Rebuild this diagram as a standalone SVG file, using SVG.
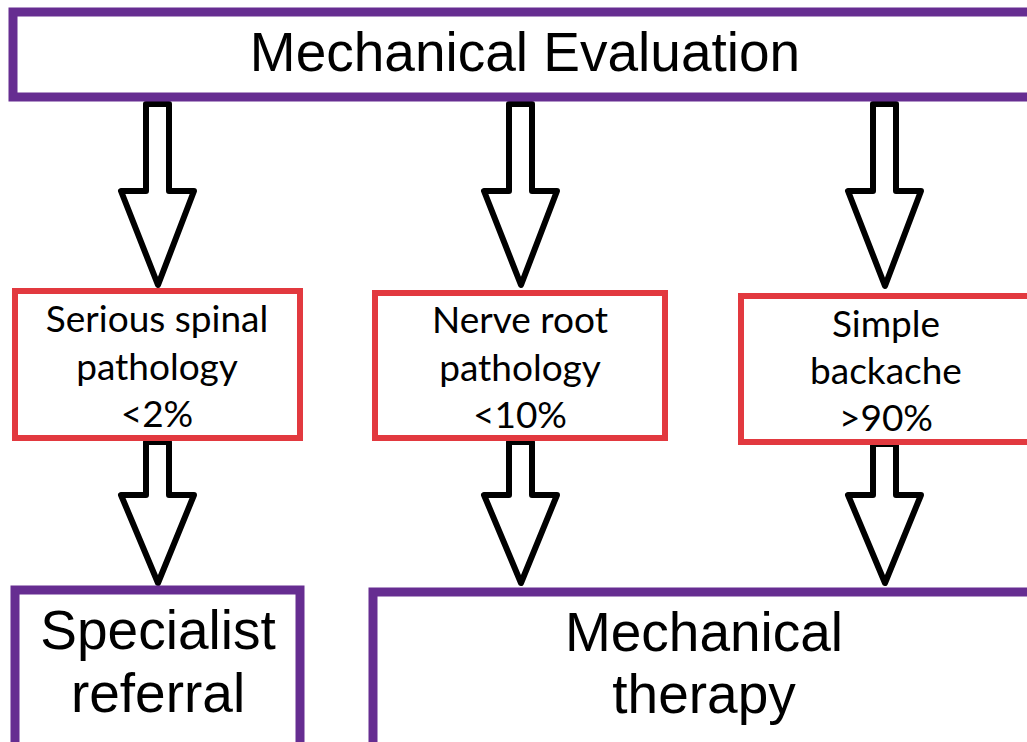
<svg xmlns="http://www.w3.org/2000/svg" width="1027" height="742" viewBox="0 0 1027 742">
<style>
.pbox{fill:#fff;stroke:#662D91;stroke-width:9}
.rbox{fill:#fff;stroke:#E2393F;stroke-width:6}
.big{font-family:"Liberation Sans",Arial,sans-serif;font-size:55px;fill:#000;text-anchor:middle}
.small{font-family:Lato,"Open Sans",sans-serif;font-size:37px;fill:#000;text-anchor:middle}
.arrow{fill:#fff;stroke:#000;stroke-width:6;stroke-linejoin:round}
</style>
<rect width="1027" height="742" fill="#fff"/>
<g id="connectors">
<path class="arrow" d="M146,104 H169 V191 H194 L158,285 L121,191 H146 Z"/>
<path class="arrow" d="M509,104 H532 V191 H557 L521,285 L484,191 H509 Z"/>
<path class="arrow" d="M873,104 H896 V191 H921 L885,286 L848,191 H873 Z"/>
<path class="arrow" d="M146,442 H169 V495 H194 L158,583 L121,495 H146 Z"/>
<path class="arrow" d="M509,442 H532 V495 H557 L521,583 L484,495 H509 Z"/>
<path class="arrow" d="M873,444 H896 V495 H921 L885,583 L848,495 H873 Z"/>
</g>
<g id="mech-eval">
<rect class="pbox" x="13" y="12" width="1030" height="85"/>
<text class="big" x="525" y="71">Mechanical Evaluation</text>
</g>
<g id="serious">
<rect class="rbox" x="15" y="291" width="285" height="147"/>
<text class="small" x="157" y="332">Serious spinal</text>
<text class="small" x="157" y="380">pathology</text>
<text class="small" x="157" y="427">&lt;2%</text>
</g>
<g id="nerve">
<rect class="rbox" x="375" y="293" width="290" height="145"/>
<text class="small" x="520" y="333">Nerve root</text>
<text class="small" x="520" y="381">pathology</text>
<text class="small" x="520" y="428">&lt;10%</text>
</g>
<g id="simple">
<rect class="rbox" x="741" y="296" width="300" height="146"/>
<text class="small" x="886" y="337">Simple</text>
<text class="small" x="886" y="384">backache</text>
<text class="small" x="886" y="431">&gt;90%</text>
</g>
<g id="specialist">
<rect class="pbox" x="15" y="590" width="285" height="160"/>
<text class="big" x="158" y="649">Specialist</text>
<text class="big" x="158" y="712">referral</text>
</g>
<g id="therapy">
<rect class="pbox" x="373" y="592" width="700" height="160"/>
<text class="big" x="704" y="651">Mechanical</text>
<text class="big" x="704" y="713">therapy</text>
</g>
</svg>
